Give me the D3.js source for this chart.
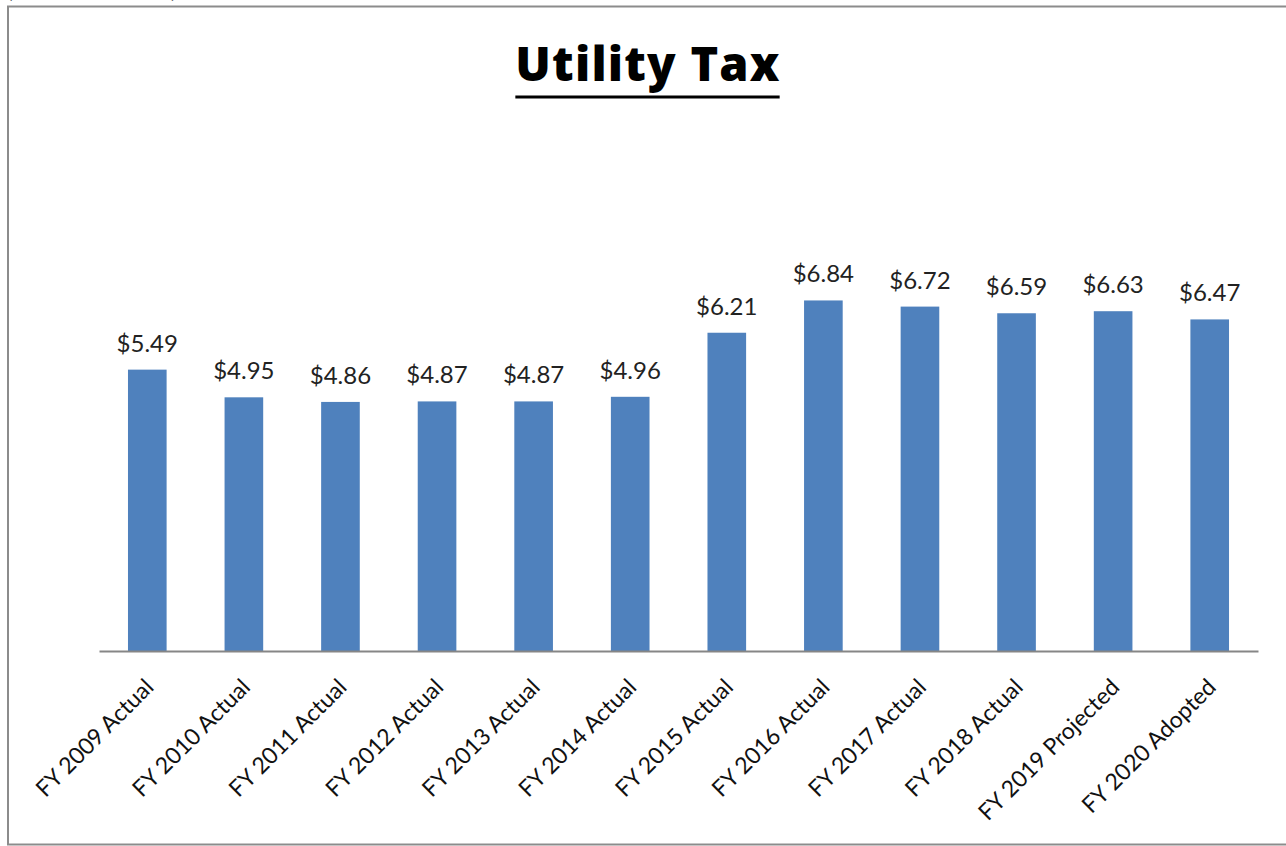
<!DOCTYPE html>
<html>
<head>
<meta charset="utf-8">
<script src="https://cdn.jsdelivr.net/npm/d3@7"></script>
<style>
  body { margin: 0; background: #fff; }
  svg { display: block; }
  text { font-variant-ligatures: none; }
  .title { font-family: "Open Sans", Lato, sans-serif; font-weight: 800; font-size: 47px; letter-spacing: 1.2px; }
  .val { font-family: Lato, "Open Sans", sans-serif; font-size: 24px; fill: #222; }
  .cat { font-family: Lato, "Open Sans", sans-serif; font-size: 23px; fill: #111; }
</style>
</head>
<body>
<svg width="1286" height="846"></svg>
<script>
const categories = [
  "FY 2009 Actual", "FY 2010 Actual", "FY 2011 Actual", "FY 2012 Actual",
  "FY 2013 Actual", "FY 2014 Actual", "FY 2015 Actual", "FY 2016 Actual",
  "FY 2017 Actual", "FY 2018 Actual", "FY 2019 Projected", "FY 2020 Adopted"
]
const values = [5.49, 4.95, 4.86, 4.87, 4.87, 4.96, 6.21, 6.84, 6.72, 6.59, 6.63, 6.47]

const svg = d3.select("svg")

// page note above the frame, mostly cut off (as in the source page)
svg.append("text")
  .attr("x", 6)
  .attr("y", -3)
  .style("font-family", "'Liberation Serif', serif")
  .style("font-size", "19px")
  .text("(in millions of dollars)")

// frame
svg.append("rect")
  .attr("x", 8)
  .attr("y", 6.5)
  .attr("width", 1300)
  .attr("height", 838)
  .attr("fill", "none")
  .attr("stroke", "#8c8c8c")
  .attr("stroke-width", 2)

const x = d3.scaleBand()
  .domain(categories)
  .range([99, 1258])
  .paddingInner(0.6)
  .paddingOuter(0.3)

const y = d3.scaleLinear()
  .domain([0, 8])
  .range([651, 241])

const title = svg.append("text")
  .attr("class", "title")
  .attr("x", 648)
  .attr("y", 81)
  .attr("text-anchor", "middle")
  .text("Utility Tax")

const tb = title.node().getBBox()
svg.append("line")
  .attr("x1", tb.x)
  .attr("x2", tb.x + tb.width - 1)
  .attr("y1", 97)
  .attr("y2", 97)
  .attr("stroke", "#000")
  .attr("stroke-width", 3)

svg.selectAll("rect.bar")
  .data(values)
  .enter()
  .append("rect")
  .attr("class", "bar")
  .attr("x", (d, i) => x(categories[i]))
  .attr("y", d => y(d))
  .attr("width", x.bandwidth())
  .attr("height", d => y(0) - y(d))
  .attr("fill", "#4f81bd")

svg.selectAll("text.val")
  .data(values)
  .enter()
  .append("text")
  .attr("class", "val")
  .attr("x", (d, i) => x(categories[i]) + x.bandwidth() / 2)
  .attr("y", d => y(d) - 18)
  .attr("text-anchor", "middle")
  .text(d => "$" + d.toFixed(2))

const axis = svg.append("g")
  .attr("transform", "translate(0,651)")
  .call(d3.axisBottom(x).tickSize(0).tickPadding(0))

axis.select(".domain").attr("stroke", "#868686").attr("stroke-width", 2)

axis.selectAll("text")
  .attr("class", "cat")
  .attr("text-anchor", "end")
  .attr("dy", "0.35em")
  .attr("transform", "translate(2,32) rotate(-45)")
</script>
</body>
</html>
